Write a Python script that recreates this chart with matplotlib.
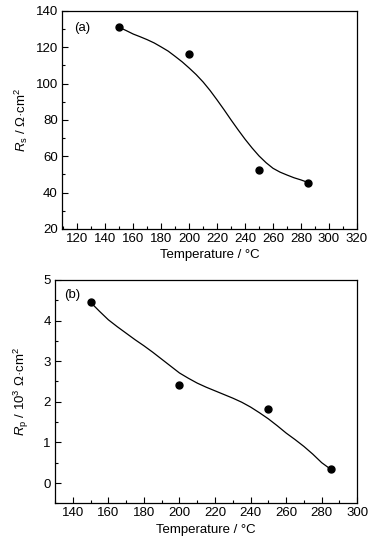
import matplotlib
matplotlib.use("Agg")
import matplotlib.pyplot as plt
from matplotlib.ticker import MultipleLocator

plt.rcParams['font.family'] = ['Liberation Sans', 'DejaVu Sans']
plt.rcParams['mathtext.fontset'] = 'custom'
plt.rcParams['mathtext.it'] = 'Liberation Sans:italic'
plt.rcParams['mathtext.rm'] = 'Liberation Sans'

# measured points
temp = [150, 200, 250, 285]
rs = [131, 116.2, 52.5, 45.3]
rp = [4.47, 2.42, 1.83, 0.34]

# fitted curves, every 5 degrees
fit_t = [150, 155, 160, 165, 170, 175, 180, 185, 190, 195, 200, 205, 210, 215,
         220, 225, 230, 235, 240, 245, 250, 255, 260, 265, 270, 275, 280, 285]
fit_rs = [131, 129.2, 127.3, 125.8, 124.2, 122.4, 120.2, 117.9, 115.0, 112.0,
          108.6, 105.0, 100.9, 96.2, 91.0, 85.6, 80.0, 74.6, 69.4, 64.6,
          60.2, 56.5, 53.4, 51.3, 49.7, 48.2, 47.0, 45.6]
fit_rp = [4.45, 4.23, 4.02, 3.85, 3.69, 3.53, 3.38, 3.22, 3.05, 2.88,
          2.71, 2.58, 2.46, 2.36, 2.27, 2.18, 2.09, 1.99, 1.87, 1.73,
          1.58, 1.41, 1.23, 1.07, 0.90, 0.71, 0.50, 0.34]

fig = plt.figure(figsize=(3.87, 5.46), dpi=100)
ax1 = fig.add_axes([0.160, 0.5806, 0.7623, 0.3993])
ax2 = fig.add_axes([0.1421, 0.0782, 0.7811, 0.409])

fs = 9.5


def style(ax):
    ax.tick_params(which='both', direction='in', top=False, right=False, labelsize=fs, pad=3)
    ax.tick_params(which='major', length=4, width=0.8)
    ax.tick_params(which='minor', length=2, width=0.8)
    for s in ax.spines.values():
        s.set_linewidth(0.9)


ax1.plot(fit_t, fit_rs, color='black', lw=0.9)
ax1.plot(temp, rs, 'o', color='black', ms=5)
ax1.set_xlim(109, 320)
ax1.set_ylim(20, 140)
ax1.xaxis.set_major_locator(MultipleLocator(20))
ax1.xaxis.set_minor_locator(MultipleLocator(10))
ax1.yaxis.set_major_locator(MultipleLocator(20))
ax1.yaxis.set_minor_locator(MultipleLocator(10))
ax1.set_xlabel('Temperature / °C', fontsize=fs, labelpad=3)
ax1.set_ylabel(r'$R_\mathregular{s}$ / Ω·cm$^\mathregular{2}$', fontsize=fs, labelpad=4)
ax1.text(0.04, 0.95, '(a)', transform=ax1.transAxes, fontsize=fs, va='top')
style(ax1)

ax2.plot(fit_t, fit_rp, color='black', lw=0.9)
ax2.plot(temp, rp, 'o', color='black', ms=5)
ax2.set_xlim(130, 300)
ax2.set_ylim(-0.5, 5)
ax2.xaxis.set_major_locator(MultipleLocator(20))
ax2.xaxis.set_minor_locator(MultipleLocator(10))
ax2.yaxis.set_major_locator(MultipleLocator(1))
ax2.yaxis.set_minor_locator(MultipleLocator(0.5))
ax2.set_xlabel('Temperature / °C', fontsize=fs, labelpad=3)
ax2.set_ylabel(r'$R_\mathregular{p}$ / 10$^\mathregular{3}$ Ω·cm$^\mathregular{2}$', fontsize=fs, labelpad=9)
ax2.text(0.03, 0.96, '(b)', transform=ax2.transAxes, fontsize=fs, va='top')
style(ax2)

fig.savefig('out.png', dpi=100)
